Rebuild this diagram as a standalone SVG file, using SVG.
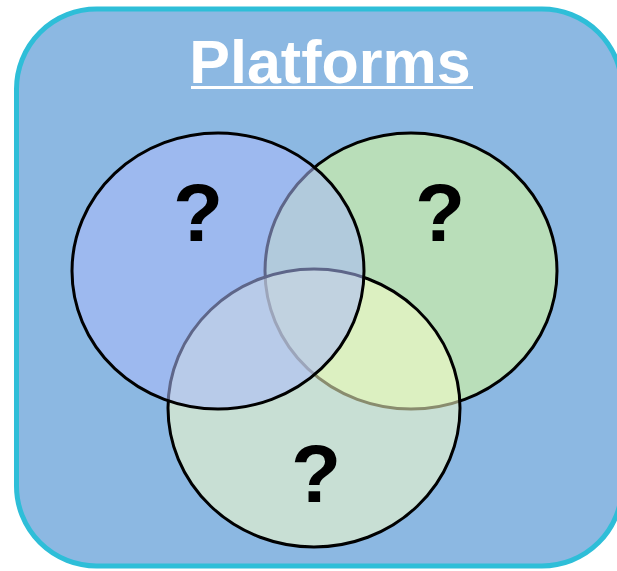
<svg xmlns="http://www.w3.org/2000/svg" width="617" height="571" viewBox="0 0 617 571">
<style>
.venn{stroke:#000;stroke-width:3}
.q{font-family:"Liberation Sans",Arial,sans-serif;font-weight:bold;font-size:82px;fill:#000;text-anchor:middle}
.title{font-family:"Liberation Sans",Arial,sans-serif;font-weight:bold;font-size:61px;fill:#fff;text-anchor:middle}
</style>
<rect width="617" height="571" fill="#fff"/>
<g id="panel">
<rect x="16.5" y="9" width="605.5" height="557" rx="80" ry="80" fill="#8cb8e2" stroke="#2ebed8" stroke-width="5"/>
</g>
<g id="title">
<text class="title" x="330" y="83">Platforms</text>
<rect x="191" y="86" width="282" height="3" fill="#fff"/>
</g>
<g id="circle-green">
<ellipse class="venn" cx="411" cy="271" rx="146" ry="138" fill="#b9deb9"/>
</g>
<g id="circle-bottom">
<ellipse class="venn" cx="314" cy="408" rx="146" ry="139" fill="#f9ffc8" fill-opacity="0.55"/>
</g>
<g id="circle-blue">
<ellipse class="venn" cx="218" cy="271" rx="146" ry="138" fill="#abbafa" fill-opacity="0.55"/>
</g>
<g id="labels">
<text class="q" x="198" y="241">?</text>
<text class="q" x="440" y="241">?</text>
<text class="q" x="316" y="502">?</text>
</g>
</svg>
